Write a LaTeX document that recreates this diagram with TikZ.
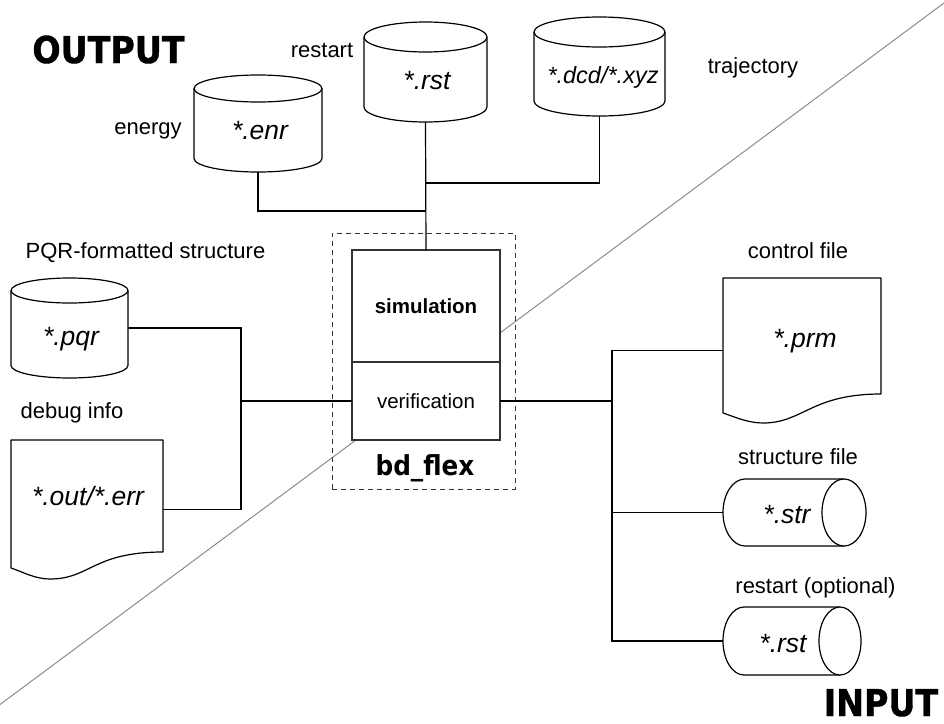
\documentclass[tikz,border=0pt]{standalone}
\usepackage{fontspec}
\setmainfont{Liberation Sans}
\newfontfamily\headfont[FakeStretch=0.9]{DejaVu Sans}
\newfontfamily\bigfont[FakeStretch=0.9, FakeBold=1.0]{DejaVu Sans Bold}

\tikzset{
  shp/.style={draw=black, line width=1.2pt, fill=white, line join=round},
  wire/.style={draw=black, line width=1.2pt},
  frame/.style={draw=none, inner sep=0pt, outer sep=0pt, rectangle},
  part/.style={draw=black!80, line width=1.4pt, fill=white, inner sep=0pt, outer sep=0pt, rectangle},
  lbl/.style={font=\fontsize{22}{26}\selectfont, anchor=base, inner sep=0pt},
  fname/.style={font=\fontsize{26.5}{30}\selectfont\itshape, anchor=base, inner sep=0pt},
  head/.style={font=\bigfont\fontsize{37}{42}\selectfont, anchor=base, inner sep=0pt},
}

% upright database cylinder: name, left, right, top, bottom, half height of the ellipse
\newcommand\dbv[6]{%
  \pgfmathsetmacro\cx{(#2+#3)/2}%
  \pgfmathsetmacro\rx{(#3-#2)/2}%
  \node[frame, minimum width={(#3-#2)*1pt}, minimum height={(#5-#4)*1pt}] (#1) at (\cx,{-(#4+#5)/2}) {};
  \filldraw[shp] (#2,{-#4-#6}) -- (#2,{-#5+#6})
    arc[start angle=180, end angle=360, x radius=\rx pt, y radius=#6pt] -- (#3,{-#4-#6});
  \filldraw[shp] (\cx,{-#4-#6}) ellipse[x radius=\rx pt, y radius=#6pt];
}

% lying cylinder: name, left, right, top, bottom, half width of the ellipse
\newcommand\dbh[6]{%
  \pgfmathsetmacro\cy{-(#4+#5)/2}%
  \pgfmathsetmacro\ry{(#5-#4)/2}%
  \node[frame, minimum width={(#3-#2)*1pt}, minimum height={(#5-#4)*1pt}] (#1) at ({(#2+#3)/2},\cy) {};
  \filldraw[shp] ({#3-#6},-#4) -- ({#2+#6},-#4)
    arc[start angle=90, end angle=270, x radius=#6pt, y radius=\ry pt] -- ({#3-#6},-#5);
  \filldraw[shp] ({#3-#6},\cy) ellipse[x radius=#6pt, y radius=\ry pt];
}

% document sheet with a wavy lower edge: name, left, right, top, right foot, left foot, trough x, trough y
\newcommand\docsheet[8]{%
  \node[frame, minimum width={(#3-#2)*1pt}, minimum height={(#8-#4)*1pt}] (#1) at ({(#2+#3)/2},{-(#4+#8)/2}) {};
  \filldraw[shp] (#2,-#4) -- (#3,-#4) -- (#3,-#5)
    .. controls ({#3-70},-#5) and ({#7+40},-#8) .. (#7,-#8)
    .. controls ({#7-15},-#8) and ({#2+12},{-#6-4}) .. (#2,-#6) -- cycle;
}

\begin{document}
\begin{tikzpicture}[x=1pt,y=1pt]
\useasboundingbox (0,0) rectangle (944,-723);

% separator between the output and the input side
\draw[black!45, line width=1pt] (0,-704.5) -- (944,-3);

% headings
\node[head] (outhead) at (108.5,-63) {OUTPUT};
\node[head] (inhead) at (881,-716) {INPUT};

% program block
\node[draw=black!80, line width=1pt, dash pattern=on 5pt off 4pt, frame, draw,
      minimum width=183pt, minimum height=256pt] (core) at (423.5,-361) {};
\node[part, minimum width=148pt, minimum height=112pt] (sim) at (426,-306) {};
\node[part, minimum width=148pt, minimum height=78pt] (ver) at (426,-401) {};
\node[font=\fontsize{20.5}{24}\selectfont\bfseries, anchor=base, inner sep=0pt] (simtxt) at (426,-313) {simulation};
\node[font=\fontsize{20.5}{24}\selectfont, anchor=base, inner sep=0pt] (vertxt) at (426,-408) {verification};
\node[font=\headfont\bfseries\fontsize{27.5}{30}\selectfont, anchor=base, inner sep=0pt] (bdflex) at (425,-475) {bd\_flex};

% output files
\dbv{enr}{194}{322}{75}{172}{13.5}
\dbv{rstout}{364}{487}{22}{122}{15}
\dbv{dcd}{534}{665}{17}{116}{15}
\dbv{pqr}{11}{128}{278}{378}{12.5}
\docsheet{outerr}{11}{163}{440}{552}{568}{50}{579}

\node[fname] (enrtxt) at (260,-139) {*.enr};
\node[fname] (rsttxt) at (427,-89) {*.rst};
\node[fname, font=\fontsize{23.5}{27}\selectfont\itshape] (dcdtxt) at (603,-83) {*.dcd/*.xyz};
\node[fname] (pqrtxt) at (71,-345) {*.pqr};
\node[fname] (outtxt) at (88,-505) {*.out/*.err};

\node[lbl] (lenergy) at (148,-134) {energy};
\node[lbl] (lrestart) at (322,-57) {restart};
\node[lbl] (ltraj) at (753,-73) {trajectory};
\node[lbl] (lpqr) at (145.5,-258) {PQR-formatted structure};
\node[lbl] (ldebug) at (72,-418) {debug info};

% input files
\docsheet{prm}{723}{881}{278}{394}{413}{763}{423}
\dbh{str}{723}{866}{479}{546}{22}
\dbh{rstin}{723}{861}{607}{675}{21}

\node[fname] (prmtxt) at (805,-347) {*.prm};
\node[fname] (strtxt) at (787,-523) {*.str};
\node[fname] (rstintxt) at (783,-652) {*.rst};

\node[lbl] (lcontrol) at (798,-258) {control file};
\node[lbl] (lstruct) at (798,-464) {structure file};
\node[lbl] (lrestartin) at (815.5,-593) {restart (optional)};

% junction points of the wiring
\coordinate (joinE) at (426,-211);
\coordinate (joinD) at (426,-183);
\coordinate (busL) at (241,-401);
\coordinate (busR) at (612,-401);

% wiring
\draw[wire] (rstout.south) -- (sim.north);
\draw[wire] (enr.south) |- (joinE);
\draw[wire] (dcd.south) |- (joinD);
\draw[wire] (pqr.east) -| (busL);
\draw[wire] (outerr.east) -| (busL);
\draw[wire] (busL) -- (ver.west);
\draw[wire] (ver.east) -- (busR);
\draw[wire] (prm.west) -| (rstin.west -| busR) -- (rstin.west);
\draw[wire] (str.west) -- (str.west -| busR);
\end{tikzpicture}
\end{document}
